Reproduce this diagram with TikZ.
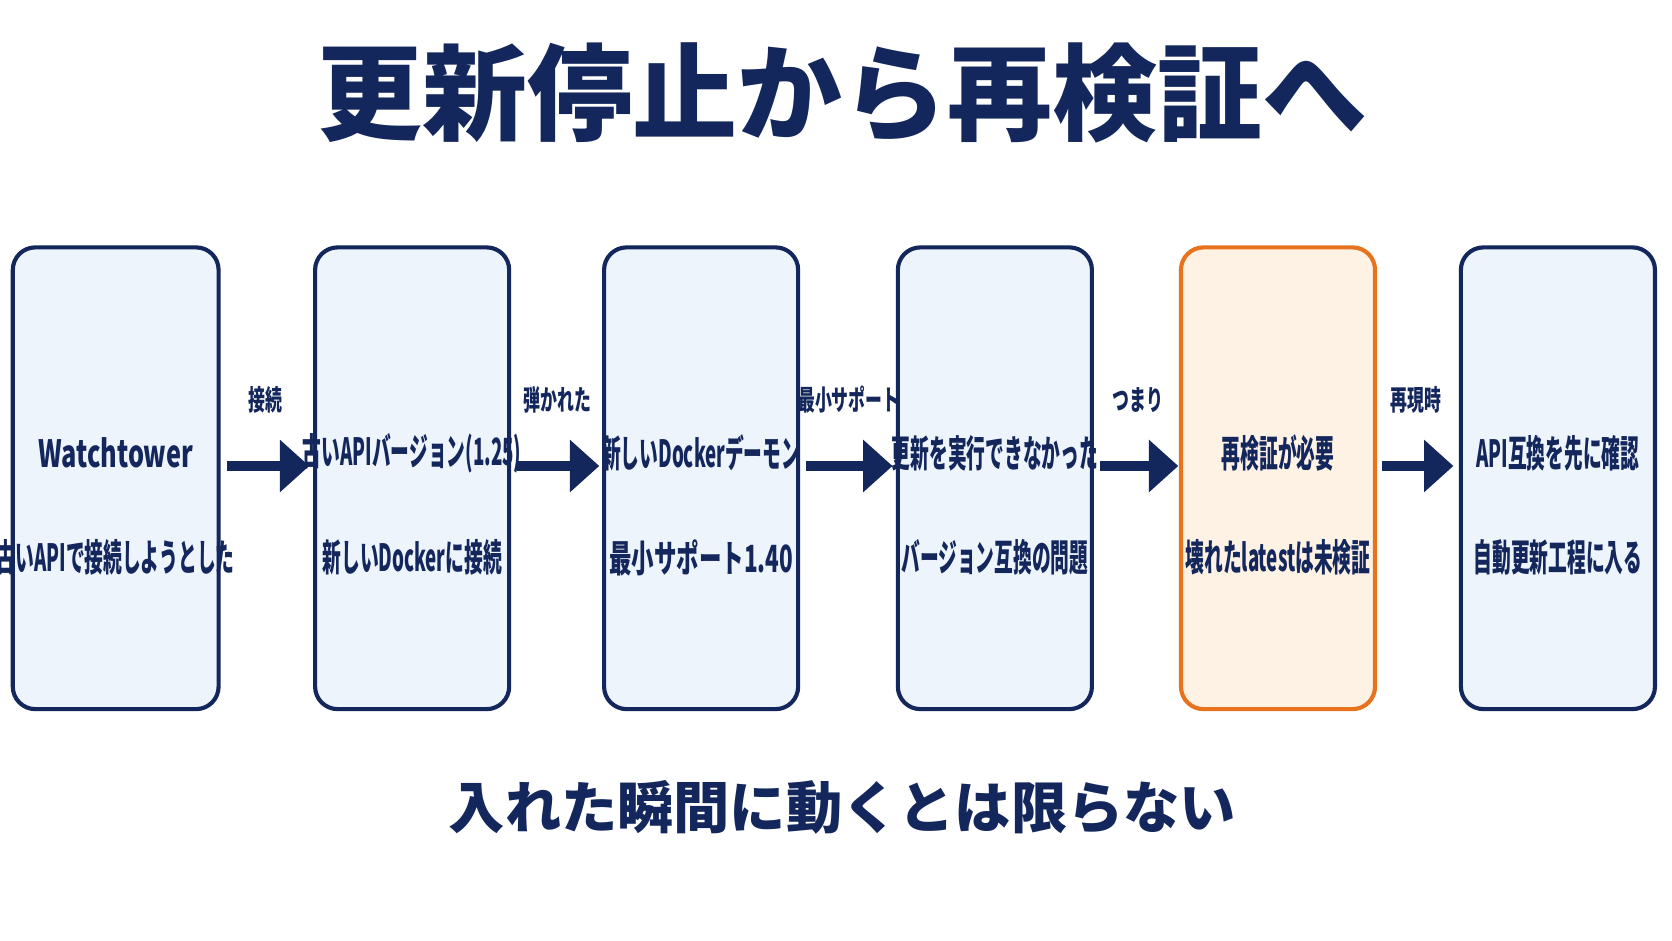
\documentclass[tikz,border=0pt]{standalone}
\usepackage{fontspec}
\setmainfont{Noto Sans CJK JP}
\usetikzlibrary{arrows.meta,positioning}
\definecolor{navy}{HTML}{14275C}
\definecolor{boxfill}{HTML}{EEF4FC}
\definecolor{orng}{HTML}{E8731E}
\definecolor{orfill}{HTML}{FDF2E4}
\tikzset{
    stage/.style={draw=navy, fill=boxfill, line width=2.2pt, rounded corners=12pt, minimum width=3.64cm, minimum height=8.66cm},
    hot/.style={stage, draw=orng, fill=orfill},
    line/.style={font=\fontsize{20}{24}\selectfont\bfseries, text=navy, xscale=0.5, transform shape},
    tag/.style={font=\fontsize{15}{18}\selectfont\bfseries, text=navy, xscale=0.6, transform shape},
    go/.style={draw=navy, line width=5pt, -{Triangle[length=0.55cm, width=0.95cm]}}
}
\begin{document}
\begin{tikzpicture}
    \useasboundingbox (0,0) rectangle (31.36,-17.64);

    \node[font=\fontsize{56}{60}\selectfont\bfseries, text=navy] (title) at (15.8,-1.75) {更新停止から再検証へ};

    \begin{scope}
        \node[stage, minimum width=3.86cm] (b1) at (2.17,-8.97) {};
        \node[stage] (b2) at (7.73,-8.97) {};
        \node[stage] (b3) at (13.15,-8.97) {};
        \node[stage] (b4) at (18.66,-8.97) {};
        \node[hot]  (b5) at (23.97,-8.97) {};
        \node[stage] (b6) at (29.22,-8.97) {};
    \end{scope}

    % box texts
    \node[line, xscale=1.35] (t1a) at (2.17,-8.5) {Watchtower};
    \node[line] (t1b) at (2.17,-10.46) {古いAPIで接続しようとした};
    \node[line] (t2a) at (7.73,-8.5) {古いAPIバージョン(1.25)};
    \node[line] (t2b) at (7.73,-10.46) {新しいDockerに接続};
    \node[line] (t3a) at (13.15,-8.5) {新しいDockerデーモン};
    \node[line, xscale=1.2] (t3b) at (13.15,-10.46) {最小サポート1.40};
    \node[line] (t4a) at (18.66,-8.5) {更新を実行できなかった};
    \node[line] (t4b) at (18.66,-10.46) {バージョン互換の問題};
    \node[line] (t5a) at (23.97,-8.5) {再検証が必要};
    \node[line] (t5b) at (23.97,-10.46) {壊れたlatestは未検証};
    \node[line] (t6a) at (29.22,-8.5) {API互換を先に確認};
    \node[line] (t6b) at (29.22,-10.46) {自動更新工程に入る};

    % arrows
    \coordinate (a1s) at (4.26,-8.74); \coordinate (a1e) at (5.8,-8.74);
    \coordinate (a2s) at (9.7,-8.74);  \coordinate (a2e) at (11.24,-8.74);
    \coordinate (a3s) at (15.12,-8.74); \coordinate (a3e) at (16.74,-8.74);
    \coordinate (a4s) at (20.64,-8.74); \coordinate (a4e) at (22.1,-8.74);
    \coordinate (a5s) at (25.92,-8.74); \coordinate (a5e) at (27.26,-8.74);
    \draw[go] (a1s) -- (a1e);
    \draw[go] (a2s) -- (a2e);
    \draw[go] (a3s) -- (a3e);
    \draw[go] (a4s) -- (a4e);
    \draw[go] (a5s) -- (a5e);
    \node[tag] (l1) at (4.98,-7.5) {接続};
    \node[tag] (l2) at (10.46,-7.5) {弾かれた};
    \node[tag] (l3) at (15.92,-7.5) {最小サポート};
    \node[tag] (l4) at (21.34,-7.5) {つまり};
    \node[tag] (l5) at (26.56,-7.5) {再現時};

    \node[font=\fontsize{30}{34}\selectfont\bfseries, text=navy] (foot) at (15.8,-15.14) {入れた瞬間に動くとは限らない};
\end{tikzpicture}
\end{document}
